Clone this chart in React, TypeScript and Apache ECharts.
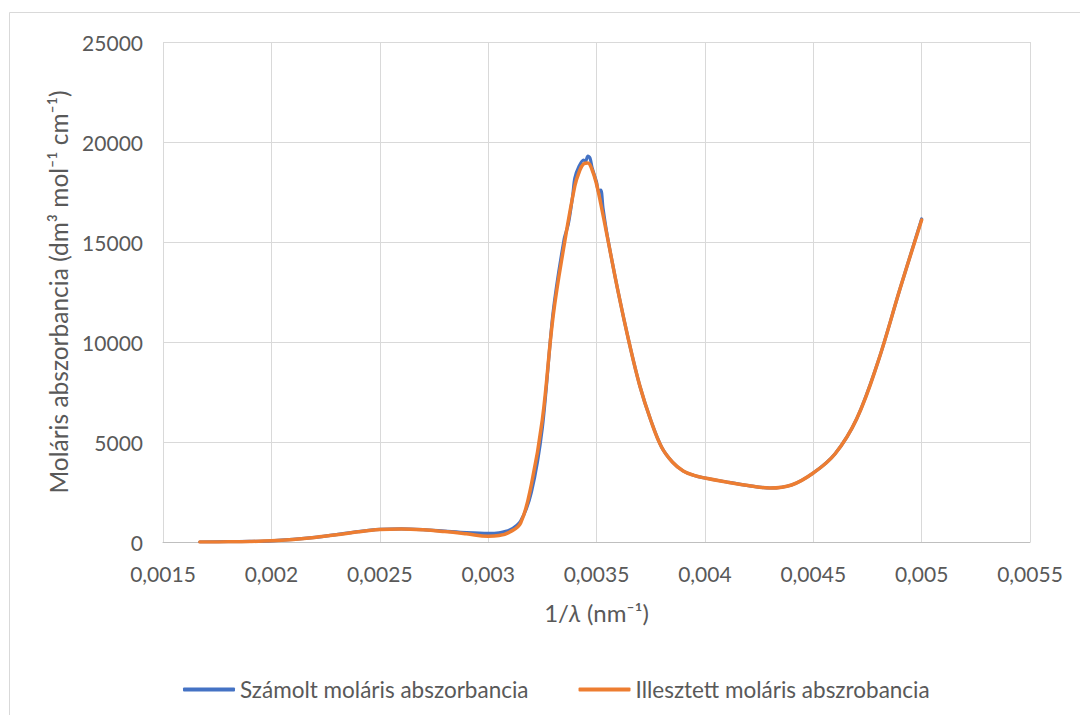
import React, { useEffect, useRef } from "react";
import * as echarts from "echarts";

// 1/λ (nm⁻¹)
const fitX = [
  0.00167, 0.0018, 0.0019, 0.002, 0.0021, 0.0022, 0.0023, 0.0024, 0.0025, 0.0026,
  0.0027, 0.0028, 0.0029, 0.003, 0.00305, 0.0031, 0.00315, 0.0032, 0.00325, 0.0033,
  0.00335, 0.0034, 0.00342, 0.00344, 0.00346, 0.00348, 0.0035, 0.00352, 0.00355, 0.0036,
  0.00365, 0.0037, 0.00375, 0.0038, 0.00385, 0.0039, 0.00395, 0.004, 0.0041, 0.0042,
  0.0043, 0.0044, 0.0045, 0.0046, 0.0047, 0.0048, 0.0049, 0.005,
];
// Illesztett moláris abszrobancia
const fitY = [
  0, 10, 25, 60, 130, 230, 360, 510, 620, 650,
  610, 520, 410, 290, 320, 500, 950, 2900, 6100, 11300,
  14800, 17800, 18500, 18900, 18950, 18600, 17900, 16900, 15250, 12500,
  10000, 7800, 6100, 4750, 4000, 3550, 3330, 3200, 3000, 2820,
  2700, 2850, 3450, 4400, 6150, 9050, 12650, 16100,
];

const measX = [
  0.00167, 0.0018, 0.0019, 0.002, 0.0021, 0.0022, 0.0023, 0.0024, 0.0025, 0.0026,
  0.0027, 0.0028, 0.0029, 0.003, 0.00305, 0.0031, 0.00315, 0.0032, 0.00325, 0.0033,
  0.00335, 0.00337, 0.00339, 0.0034, 0.00342, 0.00344, 0.00345, 0.00346, 0.00347, 0.00348,
  0.0035, 0.00351, 0.00352, 0.00353, 0.00355, 0.0036, 0.00365, 0.0037, 0.00375, 0.0038,
  0.00385, 0.0039, 0.00395, 0.004, 0.0041, 0.0042, 0.0043, 0.0044, 0.0045, 0.0046,
  0.0047, 0.0048, 0.0049, 0.005,
];
// Számolt moláris abszorbancia
const measY = [
  0, 15, 30, 60, 130, 230, 370, 520, 630, 660,
  620, 545, 470, 430, 460, 600, 1050, 2500, 5700, 11500,
  15100, 15900, 17300, 18200, 18800, 19100, 19050, 19300, 19200, 18700,
  18000, 17500, 17600, 16700, 15300, 12500, 10000, 7800, 6100, 4750,
  4000, 3550, 3330, 3200, 3000, 2820, 2700, 2850, 3450, 4400,
  6150, 9050, 12650, 16150,
];

const xTicks = { min: 0.0015, max: 0.0055, interval: 0.0005 };
const yTicks = { min: 0, max: 25000, interval: 5000 };

const seriesNames = ["Számolt moláris abszorbancia", "Illesztett moláris abszrobancia"];

const FONT = "Lato, 'Open Sans', sans-serif";
const TXT = "#595959";

export default function App() {
  const ref = useRef<HTMLDivElement>(null);
  useEffect(() => {
    if (!ref.current) return;
    const chart = echarts.init(ref.current, undefined, { renderer: "svg" });
    const measData = measX.map((x, i) => [x, measY[i]]);
    const fitData = fitX.map((x, i) => [x, fitY[i]]);
    chart.setOption({
      animation: false,
      backgroundColor: "#ffffff",
      textStyle: { fontFamily: FONT },
      graphic: [
        {
          type: "rect",
          shape: { x: 9.5, y: 12.5, width: 1200, height: 800 },
          style: { fill: "none", stroke: "#d9d9d9", lineWidth: 1 },
          silent: true,
        },
      ],
      grid: { left: 163, right: 50, top: 42, bottom: 173, containLabel: false },
      legend: {
        left: 178,
        top: 673,
        itemWidth: 52,
        itemHeight: 4,
        itemGap: 50,
        icon: "roundRect",
        textStyle: { color: TXT, fontSize: 22.5, fontFamily: FONT },
        data: seriesNames,
      },
      xAxis: {
        type: "value",
        min: xTicks.min,
        max: xTicks.max,
        interval: xTicks.interval,
        name: "{a|1/}{i|λ}{a| (nm⁻¹)}",
        nameLocation: "middle",
        nameGap: 58,
        nameTextStyle: {
          rich: {
            a: { fontSize: 24, color: TXT, fontFamily: FONT },
            i: { fontSize: 24, color: TXT, fontFamily: FONT, fontStyle: "italic" },
          },
        },
        axisLine: { show: true, lineStyle: { color: "#bfbfbf", width: 1 } },
        axisTick: { show: false },
        axisLabel: {
          color: TXT,
          fontSize: 21,
          margin: 21,
          formatter: (v: number) => String(Number(v.toFixed(5))).replace(".", ","),
        },
        splitLine: { show: true, lineStyle: { color: "#d9d9d9", width: 1 } },
      },
      yAxis: {
        type: "value",
        min: yTicks.min,
        max: yTicks.max,
        interval: yTicks.interval,
        name: "Moláris abszorbancia (dm³ mol⁻¹ cm⁻¹)",
        nameLocation: "middle",
        nameGap: 90,
        nameRotate: 90,
        nameTextStyle: { color: TXT, fontSize: 24.5, fontFamily: FONT },
        axisLine: { show: false },
        axisTick: { show: false },
        axisLabel: {
          color: TXT,
          fontSize: 21,
          margin: 20,
          formatter: (v: number) => String(v),
        },
        splitLine: { show: true, lineStyle: { color: "#d9d9d9", width: 1 } },
      },
      series: [
        {
          name: seriesNames[0],
          type: "line",
          data: measData,
          smooth: 0.3,
          showSymbol: false,
          symbol: "none",
          lineStyle: { color: "#4472C4", width: 3.2, cap: "round", join: "round" },
          itemStyle: { color: "#4472C4" },
          z: 2,
        },
        {
          name: seriesNames[1],
          type: "line",
          data: fitData,
          smooth: 0.4,
          showSymbol: false,
          symbol: "none",
          lineStyle: { color: "#ED7D31", width: 3.5, cap: "round", join: "round" },
          itemStyle: { color: "#ED7D31" },
          z: 3,
        },
      ],
    });
    return () => chart.dispose();
  }, []);
  return (
    <div
      ref={ref}
      style={{ position: "fixed", left: 0, top: 0, width: 1080, height: 715 }}
    />
  );
}
